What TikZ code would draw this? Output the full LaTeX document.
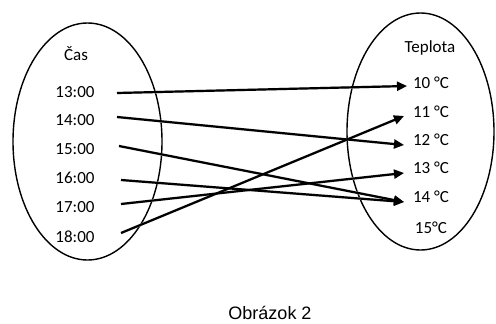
\documentclass[tikz,border=0pt]{standalone}
\usepackage{fontspec}
\setmainfont{Carlito}
\newfontfamily\capfont{Liberation Sans}
\usetikzlibrary{arrows.meta}
\begin{document}
\begin{tikzpicture}[x=1pt,y=-1pt,
  lbl/.style={font=\fontsize{17}{20}\selectfont, inner sep=0pt, anchor=center},
  oval/.style={draw=black, line width=1.4pt},
  conn/.style={line width=2.2pt, -{Triangle[length=10pt,width=9pt]}},
  shade/.style={line width=2.6pt, draw=black!15, -{Triangle[length=10pt,width=9pt]}}]
\useasboundingbox (0,0) rectangle (496,324);
% ellipses
\draw[oval] (87.5,141.5) ellipse [x radius=74.5, y radius=118.5];
\draw[oval] (420.5,131.5) ellipse [x radius=73.5, y radius=118.5];
% left labels
\node[lbl] (cas) at (76,54) {Čas};
\node[lbl] (t13) at (75,92) {13:00};
\node[lbl] (t14) at (75,120) {14:00};
\node[lbl] (t15) at (75,149) {15:00};
\node[lbl] (t16) at (75,178) {16:00};
\node[lbl] (t17) at (75,207) {17:00};
\node[lbl] (t18) at (75,237) {18:00};
% right labels
\node[lbl] (tep) at (430,48) {Teplota};
\node[lbl] (c10) at (431,83) {10 °C};
\node[lbl] (c11) at (431,112) {11 °C};
\node[lbl] (c12) at (431,140) {12 °C};
\node[lbl] (c13) at (431,168) {13 °C};
\node[lbl] (c14) at (431,197) {14 °C};
\node[lbl] (c15) at (431,228) {15°C};
% connector end points
\coordinate (s13) at (117,93);
\coordinate (s14) at (117,117);
\coordinate (s15) at (119,146);
\coordinate (s16) at (121,180);
\coordinate (s17) at (121,204);
\coordinate (s18) at (121,233);
\coordinate (e10) at (407,86);
\coordinate (e11) at (404,116);
\coordinate (e12) at (404,145);
\coordinate (e13) at (404,173);
\coordinate (e14) at (404,202);
% shadows
\begin{scope}[shift={(1.5,2)}]
\draw[shade] (s13) -- (e10);
\draw[shade] (s14) -- (e12);
\draw[shade] (s15) -- (e14);
\draw[shade] (s16) -- (e14);
\draw[shade] (s17) -- (e13);
\draw[shade] (s18) -- (e11);
\end{scope}
% connectors
\draw[conn] (s13) -- (e10);
\draw[conn] (s14) -- (e12);
\draw[conn] (s15) -- (e14);
\draw[conn] (s16) -- (e14);
\draw[conn] (s17) -- (e13);
\draw[conn] (s18) -- (e11);
% caption
\node[inner sep=0pt, font=\capfont\fontsize{18}{21}\selectfont] (cap) at (270,313) {Obrázok 2};
\end{tikzpicture}
\end{document}
